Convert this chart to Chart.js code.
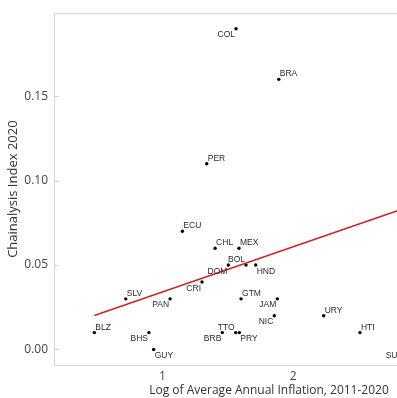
<!DOCTYPE html>
<html><head><meta charset="utf-8">
<script src="https://cdn.jsdelivr.net/npm/chart.js@4/dist/chart.umd.min.js"></script>
<style>
html,body{margin:0;padding:0;overflow:hidden;background:#fff;width:397px;height:398px}
#wrap{width:494px;height:398px;position:relative}
</style>
</head><body><div id="wrap"><canvas id="c" width="494" height="398"></canvas></div>
<script>
// ---- data ----
const countries = ["COL","BRA","PER","ECU","CHL","MEX","DOM","BOL","HND","CRI","GTM","JAM","NIC","TTO","PRY","BRB","SLV","PAN","BLZ","BHS","GUY","URY","HTI","SUR"];
const logInflation = [1.563,1.889,1.339,1.153,1.403,1.585,1.504,1.639,1.713,1.303,1.601,1.878,1.855,1.560,1.588,1.458,0.721,1.059,0.481,0.898,0.934,2.232,2.509,2.85];
const chainalysisIndex = [0.19,0.16,0.11,0.07,0.06,0.06,0.05,0.05,0.05,0.04,0.03,0.03,0.02,0.01,0.01,0.01,0.03,0.03,0.01,0.01,0.00,0.02,0.01,0.00];
const fitIntercept = 0.0073;
const fitSlope = 0.0268;
const xTickValues = [1, 2, 3];
const yTickValues = [0, 0.05, 0.10, 0.15];

// ---- label placement (style, not data) ----
const labelPlacement = ["sw","ne","ne","ne","ne","ne","sw","nw","se","sw","ne","sw","sw","nw","se","sw","ne","sw","ne","sw","se","ne","ne","sw"];

const FONT = "'Open Sans', sans-serif";
const GRID = "#d4d4d4";

const points = countries.map((c, i) => ({x: logInflation[i], y: chainalysisIndex[i], label: c}));
const xMin = Math.min(...logInflation), xMax = Math.max(...logInflation);
const fitLine = [xMin, xMax].map(x => ({x: x, y: fitIntercept + fitSlope * x}));

const frame = {
  id: 'frame',
  beforeDatasetsDraw(chart) {
    const {ctx, chartArea: a, scales} = chart;
    ctx.save();
    ctx.strokeStyle = GRID; ctx.lineWidth = 1;
    ctx.beginPath();
    ctx.moveTo(a.left, a.top + 0.5); ctx.lineTo(a.right, a.top + 0.5);
    yTickValues.forEach(v => {
      const py = Math.round(scales.y.getPixelForValue(v)) + 0.5;
      ctx.moveTo(a.left, py); ctx.lineTo(a.left + 5, py);
    });
    ctx.stroke();
    ctx.restore();
  },
  afterDatasetsDraw(chart) {
    const {ctx} = chart;
    const meta = chart.getDatasetMeta(1);
    ctx.save();
    ctx.font = "8.5px 'Liberation Sans', Arial, sans-serif";
    ctx.fillStyle = "#2a2a2a";
    meta.data.forEach((el, i) => {
      const p = labelPlacement[i];
      const dx = 1, dy = 3;
      ctx.textAlign = p[1] === 'e' ? 'left' : 'right';
      ctx.textBaseline = p[0] === 'n' ? 'alphabetic' : 'top';
      const tx = el.x + (p[1] === 'e' ? dx : -dx);
      const ty = el.y + (p[0] === 'n' ? -dy : dy - 1);
      ctx.fillText(points[i].label, tx, ty);
    });
    ctx.restore();
  }
};

new Chart(document.getElementById('c'), {
  data: {
    datasets: [
      {type: 'line', data: fitLine, borderColor: '#cc2529', borderWidth: 1.6, pointRadius: 0, fill: false, order: 1},
      {type: 'scatter', data: points, pointRadius: 1.7, pointBackgroundColor: '#000', pointBorderWidth: 0, order: 2}
    ]
  },
  options: {
    responsive: false,
    devicePixelRatio: 1,
    animation: false,
    layout: {padding: {left: 0, top: 11, right: 10, bottom: 0}},
    plugins: {legend: {display: false}, tooltip: {enabled: false}},
    scales: {
      x: {
        type: 'linear', min: 0.173, max: 3.456,
        afterFit(s) { s.height = 33; },
        afterBuildTicks(s) { s.ticks = xTickValues.map(v => ({value: v})); },
        grid: {display: true, drawOnChartArea: false, drawTicks: false},
        border: {display: true, color: GRID},
        ticks: {padding: 4, color: '#444', font: {family: FONT, size: 12}, callback: v => String(v), maxRotation: 0},
        title: {display: true, text: 'Log of Average Annual Inflation, 2011-2020', color: '#333', font: {family: FONT, size: 12}, padding: {top: 0, bottom: 0}}
      },
      y: {
        type: 'linear', min: -0.0092, max: 0.1992,
        afterFit(s) { s.width = 54; },
        afterBuildTicks(s) { s.ticks = yTickValues.map(v => ({value: v})); },
        grid: {display: true, drawOnChartArea: false, drawTicks: false},
        border: {display: true, color: GRID},
        ticks: {padding: 6, color: '#444', font: {family: FONT, size: 12}, callback: v => v.toFixed(2)},
        title: {display: true, text: 'Chainalysis Index 2020', color: '#333', font: {family: FONT, size: 13}, padding: {top: 5, bottom: 0}}
      }
    }
  },
  plugins: [frame]
});
</script>
</body></html>
